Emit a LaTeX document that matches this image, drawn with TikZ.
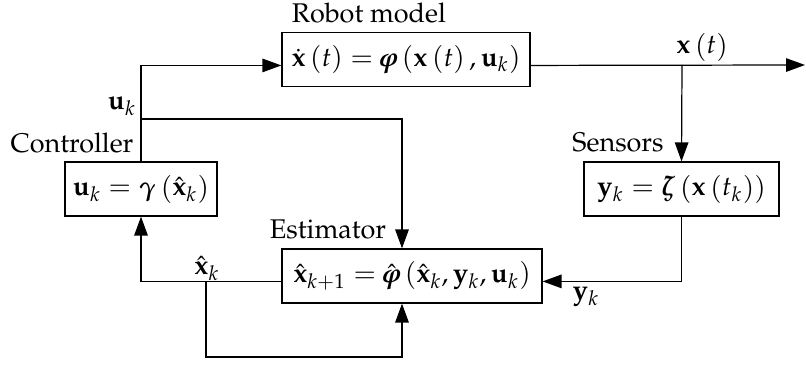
\documentclass[tikz,border=0pt]{standalone}
\usepackage[T1]{fontenc}
\usepackage{mathpazo}
\usepackage{amsmath}
\usetikzlibrary{arrows.meta}

\begin{document}
\begin{tikzpicture}[x=0.37pt, y=-0.37pt, >={Triangle[length=7pt, width=5pt]}, line width=0.45pt,
	block/.style={draw, inner sep=2pt, minimum height=20pt},
	lbl/.style={anchor=base, inner sep=0pt}]
	\useasboundingbox (0,0) rectangle (806,365);
	
	% === 方块 ===
	\node[block, minimum width=91.8pt] (robot) at (406,59.5)
		{$\dot{\mathbf{x}}\left(t\right) = \boldsymbol{\varphi}\left(\mathbf{x}\left(t\right), \mathbf{u}_k\right)$};
	\node[block, minimum width=56.2pt] (ctrl) at (141,189)
		{$\mathbf{u}_k = \boldsymbol{\gamma}\left(\hat{\mathbf{x}}_k\right)$};
	\node[block, minimum width=72.2pt] (sens) at (681.5,189)
		{$\mathbf{y}_k = \boldsymbol{\zeta}\left(\mathbf{x}\left(t_k\right)\right)$};
	\node[block, minimum width=96.2pt] (est) at (412,276)
		{$\hat{\mathbf{x}}_{k+1} = \hat{\boldsymbol{\varphi}}\left(\hat{\mathbf{x}}_k, \mathbf{y}_k, \mathbf{u}_k\right)$};
	
	% 方块名称
	\node[lbl] (robotname) at (369,22.7) {Robot model};
	\node[lbl] (ctrlname) at (72,153) {Controller};
	\node[lbl] (sensname) at (618,152) {Sensors};
	\node[lbl] (estname) at (328,239) {Estimator};
	
	% 分支点
	\coordinate (ubranch) at (141,119);
	\coordinate (xbranch) at (682,65);
	\coordinate (xout) at (805,65);
	\coordinate (hbranch) at (206,281.5);
	\coordinate (hloop) at (206,357);
	
	% === 连线 ===
	\draw[->] (ctrl.north) |- ([yshift=-2.2pt]robot.west);
	\draw[->] (ubranch) -| ([xshift=-3.7pt]est.north);
	\draw[->] ([yshift=-2.2pt]robot.east) -- (xout);
	\draw[->] (xbranch) -- (sens.north);
	\draw[->] (sens.south) |- ([yshift=-2pt]est.east);
	\draw[->] ([yshift=-2pt]est.west) -| (ctrl.south);
	\draw[->] (hbranch) -- (hloop) -| ([xshift=-3.7pt]est.south);
	
	% 信号标注
	\node[lbl] (uk) at (122,110) {$\mathbf{u}_k$};
	\node[lbl] (xt) at (702,54) {$\mathbf{x}\left(t\right)$};
	\node[lbl] (xhk) at (207,275) {$\hat{\mathbf{x}}_k$};
	\node[lbl] (yk) at (586,300) {$\mathbf{y}_k$};
\end{tikzpicture}
\end{document}
